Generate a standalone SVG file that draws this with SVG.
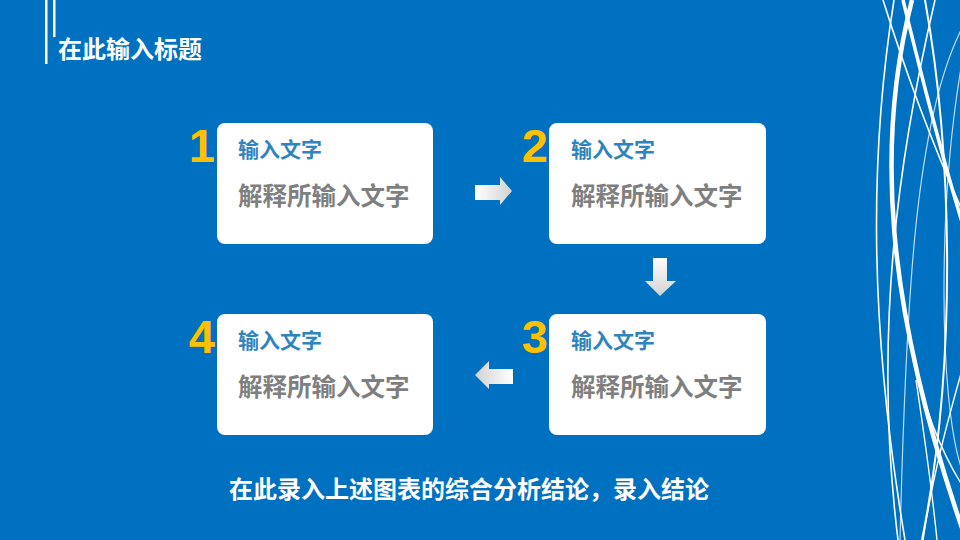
<svg xmlns="http://www.w3.org/2000/svg" width="960" height="540" viewBox="0 0 960 540">
<defs>
<linearGradient id="gR" x1="0" y1="0" x2="1" y2="0"><stop offset="0" stop-color="#FFFFFF"/><stop offset="1" stop-color="#D2D2D2"/></linearGradient>
<linearGradient id="gL" x1="1" y1="0" x2="0" y2="0"><stop offset="0" stop-color="#FFFFFF"/><stop offset="1" stop-color="#D2D2D2"/></linearGradient>
<linearGradient id="gD" x1="0" y1="0" x2="0" y2="1"><stop offset="0" stop-color="#FFFFFF"/><stop offset="1" stop-color="#D2D2D2"/></linearGradient>
<style>
.cjk{font-family:"Noto Sans CJK SC","Noto Sans",sans-serif;font-weight:bold}
.box{fill:#FFFFFF}
.num{font-family:"Liberation Sans",Arial,sans-serif;font-weight:bold;font-size:47px;fill:#FFC000;text-anchor:end}
.hd{font-size:21px;fill:#2E84BE}
.bd{font-size:24.5px;fill:#7F7F7F}
.wt{fill:#FFFFFF}
.deco{fill:none;stroke:#FFFFFF}
</style>
</defs>
<rect width="960" height="540" fill="#0070C0"/>
<g id="decoration">
<path class="deco" stroke-width="4.5" d="M912,0 C876,140 884,300 962,528"/>
<path class="deco" stroke-width="3.5" d="M903,0 C920,70 940,150 962,222"/>
<path class="deco" stroke-width="1.6" d="M883,0 C905,70 935,150 962,210"/>
<path class="deco" stroke-width="1.6" d="M894,0 C870,150 868,320 905,540"/>
<path class="deco" stroke-width="1.6" d="M935,0 C900,150 872,330 898,540"/>
<path class="deco" stroke-width="2" d="M925,0 C952,150 958,360 922,540"/>
<path class="deco" stroke-width="1.2" stroke-opacity="0.75" d="M962,28 C915,120 906,300 900,540"/>
<path class="deco" stroke-width="1.2" stroke-opacity="0.75" d="M962,62 C938,200 938,400 962,470"/>
<path class="deco" stroke-width="1.4" d="M962,370 C945,430 932,480 923,540"/>
<path class="deco" stroke-width="1.4" d="M913,360 C925,410 940,450 962,485"/>
<path class="deco" stroke-width="1.4" d="M916,380 C925,440 932,490 937,540"/>
</g>
<g id="title">
<rect x="45" y="0" width="2.5" height="64" fill="#FFFFFF"/>
<rect x="53" y="0" width="2.5" height="37" fill="#FFFFFF"/>
<text class="cjk wt" x="58" y="58" font-size="24">在此输入标题</text>
</g>
<g id="node1">
<rect class="box" x="217" y="123" width="216" height="121" rx="8"/>
<text class="num" x="215" y="162">1</text>
<text class="cjk hd" x="238" y="157">输入文字</text>
<text class="cjk bd" x="238" y="205">解释所输入文字</text>
</g>
<g id="node2">
<rect class="box" x="549" y="123" width="217" height="121" rx="8"/>
<text class="num" x="548" y="162">2</text>
<text class="cjk hd" x="571" y="157">输入文字</text>
<text class="cjk bd" x="571" y="205">解释所输入文字</text>
</g>
<g id="node3">
<rect class="box" x="549" y="314" width="217" height="121" rx="8"/>
<text class="num" x="548" y="353">3</text>
<text class="cjk hd" x="571" y="348">输入文字</text>
<text class="cjk bd" x="571" y="396">解释所输入文字</text>
</g>
<g id="node4">
<rect class="box" x="217" y="314" width="216" height="121" rx="8"/>
<text class="num" x="215" y="353">4</text>
<text class="cjk hd" x="238" y="348">输入文字</text>
<text class="cjk bd" x="238" y="396">解释所输入文字</text>
</g>
<g id="connectors">
<polygon fill="url(#gR)" points="475,185 500,185 500,177 512,191 500,205 500,200 475,200"/>
<polygon fill="url(#gD)" points="653,258 667,258 667,281 676,281 660,296 645,281 653,281"/>
<polygon fill="url(#gL)" points="513,369 489,369 489,361 475,375 489,389 489,384 513,384"/>
</g>
<g id="conclusion">
<text class="cjk wt" x="469" y="498" font-size="24" text-anchor="middle">在此录入上述图表的综合分析结论，录入结论</text>
</g>
</svg>
